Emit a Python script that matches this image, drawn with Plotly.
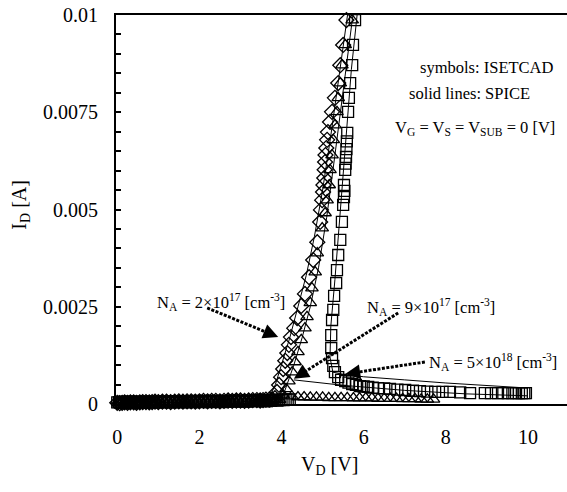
import math
import plotly.graph_objects as go

# ---------------- data ----------------
# ISETCAD symbols: diamonds (low-current branch + steep branch)
dia_v = [0, 0.06, 0.12, 0.18, 0.25, 0.32, 0.4, 0.47, 0.55, 0.62, 0.7, 0.78, 0.85, 0.92, 1.0, 1.1, 1.2, 1.3, 1.4, 1.5,
         1.6, 1.7, 1.8, 1.9, 2.0, 2.1, 2.2, 2.3, 2.4, 2.5, 2.6, 2.7, 2.8, 2.9, 3.0, 3.1, 3.2, 3.3, 3.4, 3.48, 3.55,
         3.62, 3.7, 3.77,
         3.84, 3.89, 3.94, 3.99, 4.04, 4.09, 4.14, 4.18, 4.23, 4.31, 4.38, 4.48, 4.57, 4.67, 4.77, 4.87, 4.94, 4.96,
         4.99, 5.01, 5.02, 5.04, 5.05, 5.06, 5.07, 5.09, 5.11, 5.13, 5.18, 5.23, 5.30, 5.38, 5.43, 5.50, 5.58]
dia_i = [0.00003, 0.00002, 0.00003, 0.00004, 0.00003, 0.00004, 0.00004, 0.00003, 0.00004, 0.00005, 0.00005, 0.00004,
         0.00005, 0.00006, 0.00005, 0.00006, 0.00006, 0.00005, 0.00006, 0.00007, 0.00006, 0.00007, 0.00007, 0.00006,
         0.00007, 0.00008, 0.00007, 0.00008, 0.00008, 0.00007, 0.00008, 0.00009, 0.00008, 0.00009, 0.00009, 0.00008,
         0.00009, 0.0001, 0.0001, 0.00009, 0.0001, 0.00011, 0.00011, 0.00012,
         0.00015, 0.00031, 0.00049, 0.00069, 0.0009, 0.00111, 0.00131, 0.00152, 0.00172, 0.00195, 0.00221, 0.00252,
         0.00283, 0.00326, 0.0037, 0.00416, 0.00468, 0.00499, 0.00524, 0.00545, 0.00563, 0.00581, 0.00602, 0.00622,
         0.0064, 0.00658, 0.00679, 0.00699, 0.00725, 0.00751, 0.00787, 0.00825, 0.00871, 0.00923, 0.00987]

# ISETCAD symbols: triangles (low branch, steep branch, snap-back tail)
tri_v = [0.03, 0.09, 0.15, 0.22, 0.29, 0.36, 0.43, 0.5, 0.58, 0.66, 0.74, 0.81, 0.88, 0.96, 1.05, 1.15, 1.25, 1.35,
         1.45, 1.55, 1.65, 1.75, 1.85, 1.95, 2.05, 2.15, 2.25, 2.35, 2.45, 2.55, 2.65, 2.75, 2.85, 2.95, 3.05, 3.15,
         3.25, 3.35, 3.45, 3.52, 3.6, 3.67, 3.74, 3.81, 3.88, 3.95,
         4.04, 4.11, 4.18, 4.26, 4.33, 4.40, 4.48, 4.57, 4.62, 4.70, 4.74, 4.82, 4.87, 4.99, 5.06, 5.11, 5.16, 5.18,
         5.23, 5.26, 5.30, 5.35, 5.38, 5.43, 5.47, 5.55, 5.72,
         4.25, 4.4, 4.55, 4.7, 4.85, 5.0, 5.15, 5.3, 5.45, 5.6, 5.75, 5.9, 6.05, 6.2, 6.35, 6.5, 6.65, 6.8, 6.95,
         7.1, 7.25, 7.4, 7.55, 7.7]
tri_i = [0.00002, 0.00003, 0.00002, 0.00003, 0.00003, 0.00002, 0.00003, 0.00003, 0.00004, 0.00003, 0.00004, 0.00004,
         0.00003, 0.00004, 0.00005, 0.00004, 0.00005, 0.00005, 0.00004, 0.00005, 0.00006, 0.00005, 0.00006, 0.00006,
         0.00005, 0.00006, 0.00007, 0.00006, 0.00007, 0.00007, 0.00006, 0.00007, 0.00008, 0.00007, 0.00008, 0.00008,
         0.00007, 0.00008, 0.00009, 0.00008, 0.00009, 0.00009, 0.0001, 0.0001, 0.00011, 0.00011,
         0.00023, 0.00039, 0.00059, 0.00082, 0.00108, 0.00134, 0.00165, 0.00195, 0.00224, 0.0026, 0.00298, 0.00339,
         0.00388, 0.00452, 0.00491, 0.00524, 0.00563, 0.00602, 0.0064, 0.00679, 0.00717, 0.00751, 0.00787, 0.00825,
         0.00871, 0.00923, 0.00987,
         0.0002, 0.00018, 0.00018, 0.00017, 0.00017, 0.00017, 0.00016, 0.00016, 0.00016, 0.00016, 0.00015, 0.00015,
         0.00015, 0.00015, 0.00014, 0.00014, 0.00014, 0.00014, 0.00013, 0.00013, 0.00013, 0.00012, 0.00012, 0.00012]

# ISETCAD symbols: squares (dense low branch, steep branch, snap-back tail)
sq_v = [0, 0.04, 0.08, 0.12, 0.16, 0.2, 0.24, 0.28, 0.32, 0.36, 0.4, 0.44, 0.48, 0.52, 0.56, 0.6, 0.64, 0.68, 0.72,
        0.76, 0.8, 0.85, 0.9, 0.95, 1.0, 1.05, 1.1, 1.15, 1.2, 1.25, 1.3, 1.35, 1.4, 1.45, 1.5, 1.55, 1.6, 1.65,
        1.7, 1.75, 1.8, 1.85, 1.9, 1.95, 2.0, 2.05, 2.1, 2.15, 2.2, 2.25, 2.3, 2.35, 2.4, 2.45, 2.5, 2.55, 2.6,
        2.65, 2.7, 2.75, 2.8, 2.85, 2.9, 2.95, 3.0, 3.05, 3.1, 3.15, 3.2, 3.25, 3.3, 3.35, 3.4, 3.45, 3.5, 3.55,
        3.6, 3.65, 3.7, 3.75, 3.8, 3.85, 3.9, 3.95, 4.0, 4.05, 4.1, 4.15, 4.2,
        5.38, 5.30, 5.26, 5.23, 5.21, 5.21, 5.23, 5.26, 5.28, 5.33, 5.35, 5.38, 5.43, 5.47, 5.50, 5.52, 5.53, 5.52,
        5.55, 5.56, 5.57, 5.58, 5.59, 5.60, 5.62, 5.64, 5.67, 5.72, 5.74, 5.79,
        5.45, 5.55, 5.63, 5.72, 5.81, 5.91, 6.0, 6.11, 6.22, 6.35, 6.5, 6.64, 6.82, 7.01, 7.2, 7.37, 7.55, 7.74,
        7.92, 8.10, 8.35, 8.59, 8.95, 9.1, 9.27, 9.4, 9.51, 9.62, 9.71, 9.78, 9.85, 9.91, 9.95]
sq_i = [0.00004, 0.00005, 0.00003, 0.00004, 0.00006, 0.00004, 0.00003, 0.00005, 0.00006, 0.00004, 0.00005, 0.00003,
        0.00006, 0.00005, 0.00004, 0.00006, 0.00005, 0.00003, 0.00005, 0.00006, 0.00004, 0.00006, 0.00005, 0.00004,
        0.00006, 0.00007, 0.00005, 0.00004, 0.00006, 0.00007, 0.00005, 0.00006, 0.00004, 0.00007, 0.00006, 0.00005,
        0.00007, 0.00006, 0.00004, 0.00006, 0.00007, 0.00005, 0.00006, 0.00008, 0.00006, 0.00005, 0.00007, 0.00008,
        0.00006, 0.00005, 0.00008, 0.00007, 0.00006, 0.00008, 0.00007, 0.00005, 0.00008, 0.00007, 0.00006, 0.00008,
        0.00009, 0.00007, 0.00006, 0.00008, 0.00009, 0.00007, 0.00008, 0.00006, 0.00009, 0.00008, 0.00007, 0.00009,
        0.00008, 0.0001, 0.00008, 0.00009, 0.00007, 0.0001, 0.00009, 0.00008, 0.0001, 0.00011, 0.00009, 0.0001,
        0.00011, 0.0001, 0.00012, 0.00011, 0.00012,
        0.00069, 0.00082, 0.00098, 0.00118, 0.00144, 0.00177, 0.00216, 0.00242, 0.00278, 0.00311, 0.00344, 0.00383,
        0.00422, 0.00468, 0.00512, 0.00532, 0.00548, 0.00563, 0.00602, 0.00618, 0.00635, 0.00655, 0.00675, 0.00697,
        0.00751, 0.00787, 0.00825, 0.00871, 0.00923, 0.00987,
        0.00062, 0.00059, 0.00055, 0.00051, 0.00049, 0.00046, 0.00045, 0.00044, 0.00042, 0.00041, 0.0004, 0.00039,
        0.00037, 0.00036, 0.00034, 0.00033, 0.00032, 0.00031, 0.00031, 0.00031, 0.0003, 0.00028, 0.00028, 0.00028,
        0.00028, 0.00028, 0.00028, 0.00028, 0.00028, 0.00028, 0.00028, 0.00028, 0.00028]

# SPICE solid lines
spice_a_v = [0, 1, 2, 3, 3.6, 3.72, 3.85, 4.0, 4.2, 4.4, 4.6, 4.8, 5.0, 5.2, 5.4, 5.62]
spice_a_i = [0.00002, 0.00003, 0.00004, 0.00006, 0.00008, 0.0002, 0.0005, 0.0010, 0.0017, 0.0025, 0.0033, 0.0043,
             0.0055, 0.0069, 0.0084, 0.0101]
spice_b_v = [4.0, 4.1, 4.3, 4.5, 4.7, 4.9, 5.1, 5.3, 5.5, 5.75]
spice_b_i = [0.0001, 0.0004, 0.0010, 0.0017, 0.0025, 0.0035, 0.0048, 0.0064, 0.0081, 0.0101]
spice_b_tail_v = [4.3, 5.5, 7.0, 8.5, 10.0]
spice_b_tail_i = [0.00062, 0.00048, 0.00035, 0.00026, 0.00021]
spice_c_v = [10.0, 9.0, 8.0, 7.0, 6.0, 5.5, 5.25, 5.18, 5.2, 5.3, 5.4, 5.5, 5.6, 5.7, 5.85]
spice_c_i = [0.00041, 0.00047, 0.00054, 0.00062, 0.0007, 0.00076, 0.00082, 0.0012, 0.002, 0.0032, 0.0045, 0.0058,
             0.0072, 0.0086, 0.0101]

y_tickvals = [0, 0.0025, 0.005, 0.0075, 0.01]
y_ticktext = ["0", "0.0025", "0.005", "0.0075", "0.01"]
x_tickvals = [0, 2, 4, 6, 8, 10]

# label arrows: (tail point, tip point) in data units
arrow_pts = [((2.19, 0.00247), (3.92, 0.00172)),
             ((6.84, 0.00234), (4.30, 0.00065)),
             ((7.49, 0.00108), (5.55, 0.00077))]

FONT = "Times New Roman, Liberation Serif, serif"

X_RANGE = [-0.03, 10.95]
Y_RANGE = [0, 0.01]
W, H = 567, 492
ML, MR, MT, MB = 116, 0, 15, 88
px_per_x = (W - ML - MR) / (X_RANGE[1] - X_RANGE[0])
px_per_y = (H - MT - MB) / (Y_RANGE[1] - Y_RANGE[0])

fig = go.Figure()

line_style = dict(color="black", width=1)
for v, i in [(spice_a_v, spice_a_i), (spice_b_v, spice_b_i), (spice_b_tail_v, spice_b_tail_i),
             (spice_c_v, spice_c_i)]:
    fig.add_trace(go.Scatter(x=v, y=i, mode="lines", line=line_style, cliponaxis=False, hoverinfo="skip"))

mk_line = dict(color="black", width=1.3)
fig.add_trace(go.Scatter(x=dia_v, y=dia_i, mode="markers", cliponaxis=False,
                         marker=dict(symbol="diamond-open", size=11.5, color="black", line=mk_line)))
fig.add_trace(go.Scatter(x=tri_v, y=tri_i, mode="markers", cliponaxis=False,
                         marker=dict(symbol="triangle-up-open", size=11, color="black", line=mk_line)))
fig.add_trace(go.Scatter(x=sq_v, y=sq_i, mode="markers", cliponaxis=False,
                         marker=dict(symbol="square-open", size=11, color="black", line=mk_line)))

shapes = []
annotations = []
for (tx, ty), (hx, hy) in arrow_pts:
    dx = (hx - tx) * px_per_x
    dy = -(hy - ty) * px_per_y
    L = math.hypot(dx, dy)
    ux, uy = dx / L, dy / L
    sx = hx - ux * 8 / px_per_x
    sy = hy + uy * 8 / px_per_y
    shapes.append(dict(type="line", xref="x", yref="y", x0=tx, y0=ty, x1=sx, y1=sy,
                       line=dict(color="black", width=3, dash="3px,1.5px")))
    annotations.append(dict(x=hx, y=hy, xref="x", yref="y", ax=-ux * 12, ay=-uy * 12,
                            text="", showarrow=True, arrowhead=2, arrowsize=1.2, arrowwidth=2.5,
                            arrowcolor="black"))


def txt(text, x, y, xanchor="left", size=16.5):
    annotations.append(dict(text=text, x=x, y=y, xref="paper", yref="paper", xanchor=xanchor, yanchor="middle",
                            showarrow=False, font=dict(family=FONT, size=size, color="black")))


txt("symbols: ISETCAD", 0.973, 0.866, "right")
txt("solid lines: SPICE", 0.922, 0.799, "right")
txt("V<sub>G</sub> = V<sub>S</sub> = V<sub>SUB</sub> = 0 [V]", 0.978, 0.709, "right")
txt("N<sub>A</sub> = 2×10<sup>17</sup> [cm<sup>-3</sup>]", 0.086, 0.262)
txt("N<sub>A</sub> = 9×10<sup>17</sup> [cm<sup>-3</sup>]", 0.552, 0.249)
txt("N<sub>A</sub> = 5×10<sup>18</sup> [cm<sup>-3</sup>]", 0.690, 0.108)

annotations.append(dict(text="V<sub>D</sub> [V]", x=0.474, y=-0.159, xref="paper", yref="paper",
                        xanchor="center", yanchor="middle", showarrow=False,
                        font=dict(family=FONT, size=20, color="black")))
annotations.append(dict(text="I<sub>D</sub> [A]", x=-0.211, y=0.512, xref="paper", yref="paper",
                        xanchor="center", yanchor="middle", showarrow=False, textangle=-90,
                        font=dict(family=FONT, size=20, color="black")))

fig.update_layout(
    width=W, height=H,
    margin=dict(l=ML, r=MR, t=MT, b=MB),
    paper_bgcolor="white", plot_bgcolor="white",
    showlegend=False,
    font=dict(family=FONT, size=20, color="black"),
    shapes=shapes, annotations=annotations,
    xaxis=dict(range=X_RANGE, showgrid=False, zeroline=False, showline=True, mirror=True,
               linecolor="black", linewidth=2, ticks="", tickvals=x_tickvals,
               tickfont=dict(family=FONT, size=20, color="black"), ticklabelstandoff=14),
    yaxis=dict(range=Y_RANGE, showgrid=False, zeroline=False, showline=True, mirror=False,
               linecolor="black", linewidth=2, ticks="inside", ticklen=5, tickwidth=1.5, tickcolor="black",
               tickvals=y_tickvals, ticktext=y_ticktext,
               minor=dict(dtick=0.0005, ticks="inside", ticklen=5, tickwidth=1.5, tickcolor="black"),
               tickfont=dict(family=FONT, size=20, color="black"), ticklabelstandoff=12),
)

fig.write_html("out.html")
